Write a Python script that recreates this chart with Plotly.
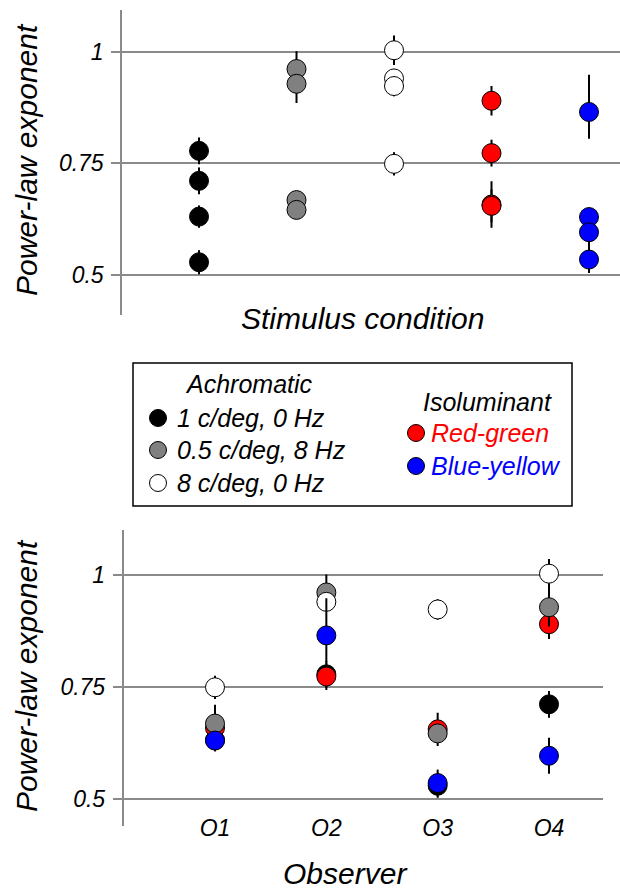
import plotly.graph_objects as go

# ---- data ----
observers = ["O1", "O2", "O3", "O4"]
condition_names = ["1 c/deg, 0 Hz", "0.5 c/deg, 8 Hz", "8 c/deg, 0 Hz", "Red-green", "Blue-yellow"]

# power-law exponents per observer (O1..O4)
achrom_1cpd_0hz = [0.631, 0.778, 0.529, 0.711]
achrom_05cpd_8hz = [0.668, 0.961, 0.646, 0.928]
achrom_8cpd_0hz = [0.749, 0.940, 0.923, 1.003]
iso_red_green = [0.658, 0.773, 0.655, 0.890]
iso_blue_yellow = [0.630, 0.865, 0.535, 0.596]

# error bars (upper, lower)
err_up_1cpd = [0.025, 0.030, 0.027, 0.030]
err_dn_1cpd = [0.025, 0.030, 0.027, 0.030]
err_up_05cpd = [0.020, 0.040, 0.020, 0.043]
err_dn_05cpd = [0.020, 0.040, 0.020, 0.043]
err_up_8cpd = [0.026, 0.020, 0.023, 0.033]
err_dn_8cpd = [0.026, 0.020, 0.023, 0.033]
err_up_rg = [0.052, 0.030, 0.037, 0.033]
err_dn_rg = [0.052, 0.030, 0.037, 0.033]
err_up_by = [0.020, 0.083, 0.030, 0.040]
err_dn_by = [0.020, 0.060, 0.030, 0.040]

y_ticks = [0.5, 0.75, 1.0]
y_ticklabels = ["0.5", "0.75", "1"]

W, H = 620, 890
FONT = "Liberation Sans, Arial, Helvetica, sans-serif"

# drawing order (later on top): black, red, gray, white, blue
series = [
    (0, achrom_1cpd_0hz, err_up_1cpd, err_dn_1cpd, "black"),
    (3, iso_red_green, err_up_rg, err_dn_rg, "red"),
    (1, achrom_05cpd_8hz, err_up_05cpd, err_dn_05cpd, "#808080"),
    (2, achrom_8cpd_0hz, err_up_8cpd, err_dn_8cpd, "white"),
    (4, iso_blue_yellow, err_up_by, err_dn_by, "blue"),
]

fig = go.Figure()

def add_pts(x, y, up, dn, color, xa, ya):
    fig.add_trace(go.Scatter(
        x=x, y=y, mode="markers", xaxis=xa, yaxis=ya, showlegend=False,
        marker=dict(size=19, color=color, line=dict(color="black", width=1)),
        error_y=dict(type="data", symmetric=False, array=up, arrayminus=dn,
                     color="black", thickness=2, width=0),
    ))

# top panel: by stimulus condition
for ci, vals, up, dn, col in series:
    add_pts([condition_names[ci]] * len(vals), vals, up, dn, col, "x", "y")

# bottom panel: by observer
for ci, vals, up, dn, col in series:
    add_pts(observers, vals, up, dn, col, "x2", "y2")

grid_col = "#8a8a8a"
yax_common = dict(
    tickvals=y_ticks, ticktext=y_ticklabels, showgrid=True, gridcolor=grid_col,
    gridwidth=1.5, zeroline=False, showline=True, linecolor=grid_col, linewidth=1.5,
    ticks="outside", ticklen=9, tickcolor=grid_col, tickwidth=1.5,
    tickfont=dict(family=FONT, size=23, color="black", style="italic"),
    ticklabelstandoff=3,
)

top_px = (10, 315)
bot_px = (530, 826)

fig.update_layout(
    width=W, height=H, margin=dict(l=0, r=0, t=0, b=0, autoexpand=False),
    paper_bgcolor="white", plot_bgcolor="white",
    xaxis=dict(domain=[122 / W, 1.0], type="category",
               categoryorder="array", categoryarray=condition_names,
               range=[-0.79, 4.318], showticklabels=False, showgrid=False,
               zeroline=False, showline=False, ticks=""),
    yaxis=dict(domain=[1 - top_px[1] / H, 1 - top_px[0] / H],
               range=[0.411, 1.093], anchor="x", **yax_common),
    xaxis2=dict(domain=[123.5 / W, 603 / W], type="category",
                categoryorder="array", categoryarray=observers,
                range=[-0.822, 3.485], showgrid=False, zeroline=False,
                showline=False, ticks="", anchor="free", position=1 - 812 / H,
                tickfont=dict(family=FONT, size=23, color="black", style="italic")),
    yaxis2=dict(domain=[1 - bot_px[1] / H, 1 - bot_px[0] / H],
                range=[0.439, 1.1006], anchor="x2", **yax_common),
)

def ann(text, px, py, size, color="black", xanchor="center", angle=0):
    fig.add_annotation(text=text, x=px / W, y=1 - py / H, xref="paper", yref="paper",
                       showarrow=False, xanchor=xanchor, yanchor="middle",
                       textangle=angle,
                       font=dict(family=FONT, size=size, color=color, style="italic"))

# axis titles
ann("Power-law exponent", 26, 160, 30, angle=-90)
ann("Stimulus condition", 362, 318, 30)
ann("Power-law exponent", 26, 676, 30, angle=-90)
ann("Observer", 345, 873, 30)

# legend box
fig.add_shape(type="rect", xref="paper", yref="paper",
              x0=133 / W, x1=572 / W, y0=1 - 506 / H, y1=1 - 363 / H,
              line=dict(color="black", width=1.5), fillcolor="white")

def swatch(px, py, color):
    fig.add_shape(type="circle", xref="paper", yref="paper",
                  xsizemode="pixel", ysizemode="pixel",
                  xanchor=px / W, yanchor=1 - py / H,
                  x0=-8.5, x1=8.5, y0=-8.5, y1=8.5,
                  line=dict(color="black", width=1), fillcolor=color)

ann("Achromatic", 183, 384, 25, xanchor="left")
legend_left = [(condition_names[0], "black", 418), (condition_names[1], "#808080", 450),
               (condition_names[2], "white", 483)]
for name, col, py in legend_left:
    swatch(158, py, col)
    ann(name, 175, py, 25, xanchor="left")

ann("Isoluminant", 421, 402, 25, xanchor="left")
legend_right = [(condition_names[3], "red", 433), (condition_names[4], "blue", 466)]
for name, col, py in legend_right:
    swatch(416, py, col)
    ann(name, 429, py, 25, color=col, xanchor="left")

fig.write_html("out.html", config={"displayModeBar": False},
               post_script="document.body.style.margin='0';")
